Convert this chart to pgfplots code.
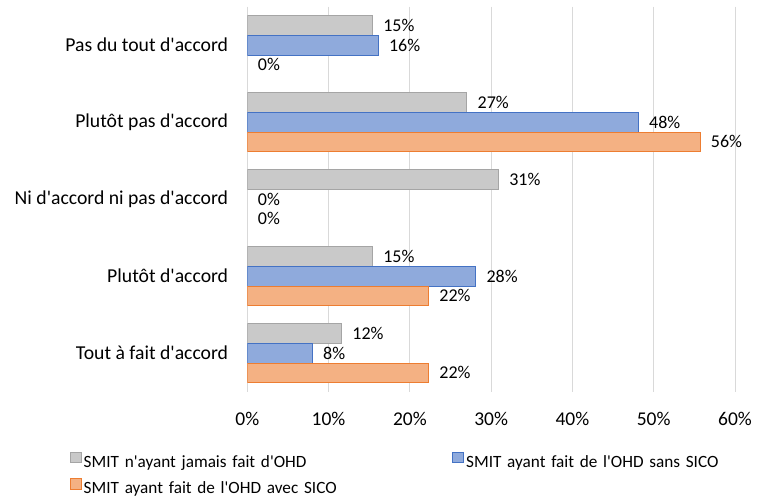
\documentclass[border=0pt]{standalone}
\usepackage{fontspec}
\setmainfont{Carlito}[Ligatures=TeXOff]
\usepackage{pgfplots}
\pgfplotsset{compat=1.18}
\usepackage{pgfplotstable}
\definecolor{grayfill}{HTML}{C9C9C9}
\definecolor{grayline}{HTML}{A5A5A5}
\definecolor{bluefill}{HTML}{8FAADC}
\definecolor{blueline}{HTML}{4472C4}
\definecolor{orgfill}{HTML}{F4B183}
\definecolor{orgline}{HTML}{ED7D31}
\definecolor{gridc}{HTML}{D9D9D9}
\pgfplotsset{sqlegend/.style={legend image code/.code={\draw[##1, line width=0.75pt] (0pt,0pt) rectangle (10.7pt,10.7pt);}}}

% SMIT n'ayant jamais fait d'OHD
\pgfplotstableread{
c v l
0 15.4 15
1 27.0 27
2 30.9 31
3 15.4 15
4 11.6 12
}\tjamais
% SMIT ayant fait de l'OHD sans SICO (non-zero values)
\pgfplotstableread{
c v l
0 16.1 16
1 48.1 48
3 28.1 28
4 8.0 8
}\tsans
% zero values (label only)
\pgfplotstableread{
c v l
2 0 0
}\tsanszero
% SMIT ayant fait de l'OHD avec SICO (non-zero values)
\pgfplotstableread{
c v l
1 55.7 56
3 22.3 22
4 22.3 22
}\tavec
% zero values (label only)
\pgfplotstableread{
c v l
0 0 0
2 0 0
}\tavezero

\begin{document}
\begin{tikzpicture}
\useasboundingbox (-247.3pt,-109.3pt) rectangle (512.7pt,391.7pt);
\begin{axis}[
  at={(0pt,0pt)}, anchor=south west,
  scale only axis, width=487.7pt, height=385pt,
  xbar, bar width=0.255,
  xmin=0, xmax=60, ymin=-0.5, ymax=4.5, y dir=reverse,
  xtick={0,10,...,60},
  xticklabels={0\%,10\%,20\%,30\%,40\%,50\%,60\%},
  ytick={0,1,2,3,4},
  yticklabels={Pas du tout d'accord, Plutôt pas d'accord, Ni d'accord ni pas d'accord, Plutôt d'accord, Tout à fait d'accord},
  xmajorgrids, ymajorgrids=false,
  grid style={gridc, line width=0.75pt},
  axis line style={draw=none}, major tick length=0pt,
  xticklabel style={font=\fontsize{19.5}{23}\selectfont, inner sep=0pt, anchor=north, yshift=-20pt},
  yticklabel style={font=\fontsize{19.7}{23}\selectfont, inner sep=0pt, anchor=east, xshift=-19pt},
  point meta=explicit symbolic,
  nodes near coords={\pgfplotspointmeta\%},
  nodes near coords style={font=\fontsize{18}{21}\selectfont, anchor=west, inner sep=0pt, xshift=10.5pt, text=black},
  legend columns=2,
  legend style={draw=none, fill=none, inner sep=0pt, outer sep=0pt,
    at={(axis description cs:0,0)}, anchor=north west, xshift=-177.3pt, yshift=-60pt,
    font=\fontsize{17.2}{20}\selectfont,
    nodes={inner sep=0pt, text height=13pt, text depth=4pt, text width=340pt, align=left},
    /tikz/every odd column/.style={column sep=2.3pt},
    /tikz/every even column/.style={column sep=28.7pt},
    row sep=6.8pt},
]
\addplot[fill=grayfill, draw=grayline, line width=0.75pt, bar shift=-0.255, sqlegend] table[x=v, y=c, meta=l] {\tjamais};
\addlegendentry{SMIT n'ayant jamais fait d'OHD}
\addplot[fill=bluefill, draw=blueline, line width=0.75pt, bar shift=0, sqlegend] table[x=v, y=c, meta=l] {\tsans};
\addlegendentry{SMIT ayant fait de l'OHD sans SICO}
\addplot[fill=orgfill, draw=orgline, line width=0.75pt, bar shift=0.255, sqlegend] table[x=v, y=c, meta=l] {\tavec};
\addlegendentry{SMIT ayant fait de l'OHD avec SICO}
\addplot[draw=none, fill=none, bar shift=0, forget plot] table[x=v, y=c, meta=l] {\tsanszero};
\addplot[draw=none, fill=none, bar shift=0.255, forget plot] table[x=v, y=c, meta=l] {\tavezero};
\end{axis}
\end{tikzpicture}
\end{document}
